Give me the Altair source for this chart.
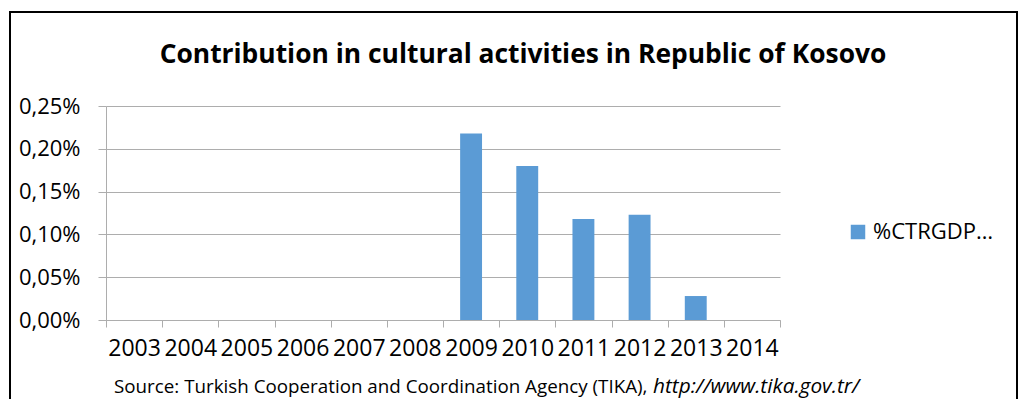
import altair as alt
import pandas as pd

years = ["2003", "2004", "2005", "2006", "2007", "2008", "2009", "2010", "2011", "2012", "2013", "2014"]
values = [0, 0, 0, 0, 0, 0, 0.218, 0.180, 0.118, 0.123, 0.028, 0]
series_name = "%CTRGDP…"
y_ticks = [0, 0.05, 0.10, 0.15, 0.20, 0.25]
title_text = "Contribution in cultural activities in Republic of Kosovo"
source_plain = "Source: Turkish Cooperation and Coordination Agency (TIKA),"
source_url = "http://www.tika.gov.tr/"

df = pd.DataFrame({"year": years, "value": values, "series": [series_name] * len(years)})

FONT = "Open Sans"
GRAY = "#ADADAD"

bars = alt.Chart(df).mark_bar(color="#5B9BD5", width={"band": 0.39}).encode(
    x=alt.X("year:N", sort=years,
            scale=alt.Scale(paddingInner=0, paddingOuter=0),
            axis=alt.Axis(title=None, labelAngle=0, labelFont=FONT, labelFontSize=23,
                          labelColor="#000000", labelPadding=10, tickBand="extent",
                          tickSize=7, tickColor=GRAY, domainColor=GRAY, grid=False)),
    y=alt.Y("value:Q", scale=alt.Scale(domain=[0, 0.25]),
            axis=alt.Axis(title=None, values=y_ticks, labelFont=FONT, labelFontSize=22,
                          labelColor="#000000", labelPadding=18, tickSize=8,
                          tickColor=GRAY, domainColor=GRAY, gridColor=GRAY,
                          labelExpr="replace(format(datum.value, '.2f'), '.', ',') + '%'")),
    color=alt.Color("series:N", scale=alt.Scale(domain=[series_name], range=["#5B9BD5"]),
                    legend=alt.Legend(title=None, orient="none", legendX=741, legendY=115,
                                      symbolType="square", symbolSize=210, symbolStrokeWidth=0,
                                      labelFont=FONT, labelFontSize=22, labelColor="#000000",
                                      labelOffset=4, labelLimit=300)),
)

one = alt.Data(values=[{"k": 1}])

frame = alt.Chart(one).mark_rect(fill="transparent", stroke="#000000", strokeWidth=2).encode(
    x=alt.value(-96), x2=alt.value(911), y=alt.value(-94), y2=alt.value(320)
)

title = alt.Chart(one).mark_text(align="center", baseline="alphabetic", font=FONT, fontSize=26.4,
                                 fontWeight="bold", color="#000000").encode(
    x=alt.value(417), y=alt.value(-43), text=alt.value(title_text)
)

src1 = alt.Chart(one).mark_text(align="left", baseline="alphabetic", font=FONT, fontSize=18.8,
                                color="#000000").encode(
    x=alt.value(8), y=alt.value(287), text=alt.value(source_plain)
)
src2 = alt.Chart(one).mark_text(align="left", baseline="alphabetic", font=FONT, fontSize=20.8,
                                fontStyle="italic", color="#000000").encode(
    x=alt.value(547), y=alt.value(287), text=alt.value(source_url)
)

chart = alt.layer(bars, frame, title, src1, src2).properties(
    width=674, height=214,
    autosize=alt.AutoSizeParams(type="none"),
    padding={"left": 98, "top": 98, "right": 238, "bottom": 79},
).configure_view(stroke=None)

chart.save("out.html", embed_options={"renderer": "svg", "actions": False})
